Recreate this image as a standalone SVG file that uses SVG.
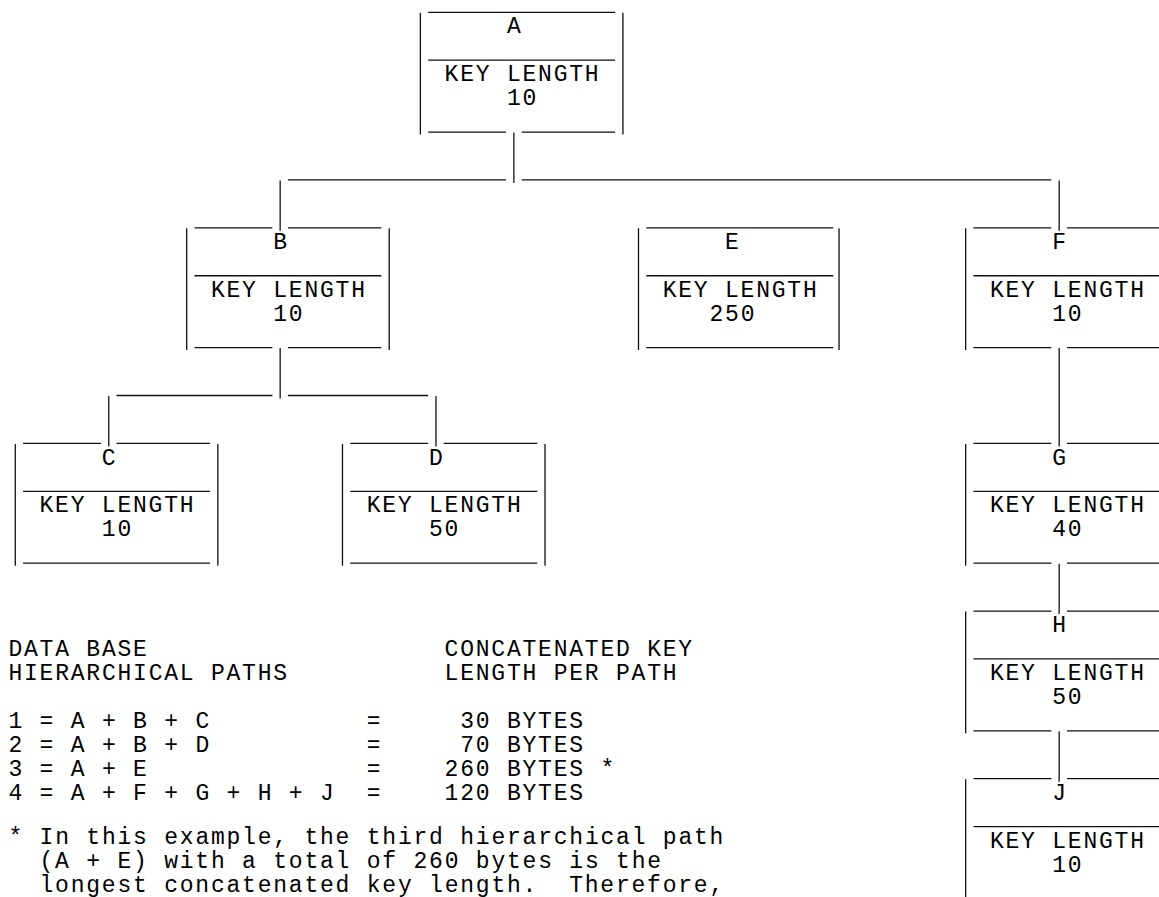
<svg xmlns="http://www.w3.org/2000/svg" width="1159" height="897" viewBox="0 0 1159 897">
<style>
.t{font-family:"Liberation Mono","DejaVu Sans Mono",monospace;font-size:23px;letter-spacing:1.78px;fill:#000}
.l{stroke:#111;stroke-width:1.3;fill:none}
</style>
<rect width="1159" height="897" fill="#fff"/>
<g id="connectors" class="l">
<path d="M513.86 132.55V182.95"/>
<path d="M287.94 179.95H506.06M521.64 179.95H1051.36"/>
<path d="M280.16 180.5V230.85"/>
<path d="M1059.16 180.5V230.85"/>
<path d="M280.16 348.1V398.5"/>
<path d="M116.56 395.5H272.36M287.94 395.5H428.16"/>
<path d="M108.78 396V446.4"/>
<path d="M435.96 396V446.4"/>
<path d="M1059.16 348.1V446.4"/>
<path d="M1059.16 563.65V614.05"/>
<path d="M1059.16 731.3V781.7"/>
</g>
<g id="node-A">
<path class="l" d="M428.16 12.3H615.12M428.16 60.2H615.12M428.16 132.05H506.06M521.64 132.05H615.12M420.38 12.8V134.55M622.92 12.8V134.55"/>
<text class="t" x="506.9" y="33.45">A</text>
<text class="t" x="444.6" y="81.35">KEY LENGTH</text>
<text class="t" x="506.9" y="105.3">10</text>
</g>
<g id="node-B">
<path class="l" d="M194.46 227.85H272.36M287.94 227.85H381.42M194.46 275.75H381.42M194.46 347.6H272.36M287.94 347.6H381.42M186.68 228.35V350.1M389.22 228.35V350.1"/>
<text class="t" x="273.2" y="249">B</text>
<text class="t" x="210.9" y="296.9">KEY LENGTH</text>
<text class="t" x="273.2" y="320.85">10</text>
</g>
<g id="node-E">
<path class="l" d="M646.28 227.85H833.24M646.28 275.75H833.24M646.28 347.6H833.24M638.5 228.35V350.1M839.04 228.35V350.1"/>
<text class="t" x="725" y="249">E</text>
<text class="t" x="662.7" y="296.9">KEY LENGTH</text>
<text class="t" x="709.5" y="320.85">250</text>
</g>
<g id="node-F">
<path class="l" d="M973.46 227.85H1051.36M1066.94 227.85H1159M973.46 275.75H1159M973.46 347.6H1051.36M1066.94 347.6H1159M965.68 228.35V350.1"/>
<text class="t" x="1052.2" y="249">F</text>
<text class="t" x="989.9" y="296.9">KEY LENGTH</text>
<text class="t" x="1052.2" y="320.85">10</text>
</g>
<g id="node-C">
<path class="l" d="M23.08 443.4H100.98M116.56 443.4H210.04M23.08 491.3H210.04M23.08 563.15H210.04M15.3 443.9V565.65M217.84 443.9V565.65"/>
<text class="t" x="101.8" y="464.55">C</text>
<text class="t" x="39.5" y="512.45">KEY LENGTH</text>
<text class="t" x="101.8" y="536.4">10</text>
</g>
<g id="node-D">
<path class="l" d="M350.26 443.4H428.16M443.74 443.4H537.22M350.26 491.3H537.22M350.26 563.15H537.22M342.48 443.9V565.65M545.02 443.9V565.65"/>
<text class="t" x="429" y="464.55">D</text>
<text class="t" x="366.7" y="512.45">KEY LENGTH</text>
<text class="t" x="429" y="536.4">50</text>
</g>
<g id="node-G">
<path class="l" d="M973.46 443.4H1051.36M1066.94 443.4H1159M973.46 491.3H1159M973.46 563.15H1051.36M1066.94 563.15H1159M965.68 443.9V565.65"/>
<text class="t" x="1052.2" y="464.55">G</text>
<text class="t" x="989.9" y="512.45">KEY LENGTH</text>
<text class="t" x="1052.2" y="536.4">40</text>
</g>
<g id="node-H">
<path class="l" d="M973.46 611.05H1051.36M1066.94 611.05H1159M973.46 658.95H1159M973.46 730.8H1051.36M1066.94 730.8H1159M965.68 611.55V733.3"/>
<text class="t" x="1052.2" y="632.2">H</text>
<text class="t" x="989.9" y="680.1">KEY LENGTH</text>
<text class="t" x="1052.2" y="704.05">50</text>
</g>
<g id="node-J">
<path class="l" d="M973.46 778.7H1051.36M1066.94 778.7H1159M973.46 826.6H1159M965.68 779.2V897"/>
<text class="t" x="1052.2" y="799.85">J</text>
<text class="t" x="989.9" y="847.75">KEY LENGTH</text>
<text class="t" x="1052.2" y="871.7">10</text>
</g>
<g id="legend">
<text class="t" x="8.4" y="656.15">DATA BASE</text>
<text class="t" x="444.6" y="656.15">CONCATENATED KEY</text>
<text class="t" x="8.4" y="680.1">HIERARCHICAL PATHS</text>
<text class="t" x="444.6" y="680.1">LENGTH PER PATH</text>
<text class="t" x="8.4" y="728">1 = A + B + C</text>
<text class="t" x="366.7" y="728">=</text>
<text class="t" x="460.2" y="728">30 BYTES</text>
<text class="t" x="8.4" y="751.95">2 = A + B + D</text>
<text class="t" x="366.7" y="751.95">=</text>
<text class="t" x="460.2" y="751.95">70 BYTES</text>
<text class="t" x="8.4" y="775.9">3 = A + E</text>
<text class="t" x="366.7" y="775.9">=</text>
<text class="t" x="444.6" y="775.9">260 BYTES *</text>
<text class="t" x="8.4" y="799.85">4 = A + F + G + H + J</text>
<text class="t" x="366.7" y="799.85">=</text>
<text class="t" x="444.6" y="799.85">120 BYTES</text>
<text class="t" x="8.4" y="844">* In this example, the third hierarchical path</text>
<text class="t" x="39.5" y="868">(A + E) with a total of 260 bytes is the</text>
<text class="t" x="39.5" y="892">longest concatenated key length.</text>
<text class="t" x="569.2" y="892">Therefore,</text>
</g>
</svg>
